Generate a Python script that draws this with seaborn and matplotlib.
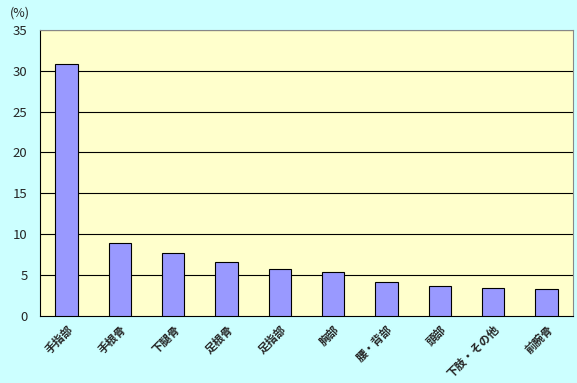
import matplotlib
matplotlib.use("Agg")
import matplotlib.pyplot as plt
import seaborn as sns
import numpy as np
import pandas as pd

categories = ["手指部", "手根骨", "下腿骨", "足根骨", "足指部", "胸部", "腰・背部", "頭部", "下肢・その他", "前腕骨"]
values = [30.8, 8.9, 7.7, 6.6, 5.8, 5.4, 4.1, 3.7, 3.4, 3.3]
yticks = [0, 5, 10, 15, 20, 25, 30, 35]

sns.set_style("white")
plt.rcParams['font.family'] = ['Noto Sans CJK JP', 'DejaVu Sans']

df = pd.DataFrame({"cat": categories, "val": values})

fig = plt.figure(figsize=(5.77, 3.83), dpi=100)
fig.patch.set_facecolor("#CCFFFF")
ax = fig.add_axes([0.0693, 0.175, 0.924, 0.747])
ax.set_facecolor("#FFFFCC")

sns.barplot(data=df, x="cat", y="val", color="#9999FF", saturation=1,
            width=0.42, edgecolor="black", linewidth=0.8, ax=ax, zorder=3)

ax.set_ylim(0, 35)
ax.set_xlim(-0.5, len(categories) - 0.5)
ax.set_yticks(yticks)
ax.set_yticklabels([str(t) for t in yticks], fontsize=9.5)
for t in yticks[1:]:
    ax.axhline(t, color="black", linewidth=0.8, zorder=1)
ax.set_xticks(range(len(categories)))
ax.set_xticklabels(categories, rotation=45, ha="right", rotation_mode="anchor",
                   fontsize=8.2, fontweight="bold")
ax.tick_params(axis="x", length=0, pad=5)
ax.set_xticks(np.arange(0.5, len(categories) - 0.5, 1), minor=True)
ax.tick_params(axis="x", which="minor", direction="in", length=3, color="black")
ax.tick_params(axis="y", direction="out", length=3, color="black", pad=6)
ax.set_xlabel("")
ax.set_ylabel("")
for s in ax.spines.values():
    s.set_color("black")
    s.set_linewidth(0.8)
ax.spines["top"].set_color("#888888")
ax.spines["right"].set_color("#888888")

fig.text(0.017, 0.965, "(%)", fontsize=9, va="center", ha="left")

fig.savefig("out.png", dpi=100, facecolor=fig.get_facecolor())
